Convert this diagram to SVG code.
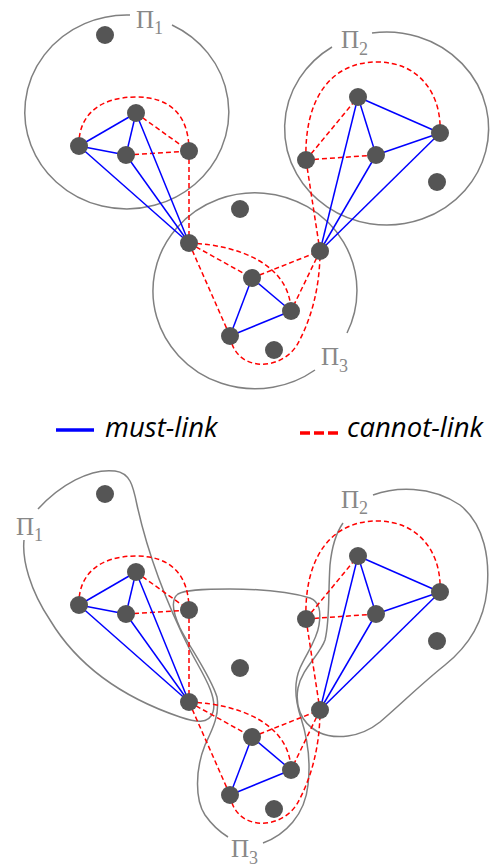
<svg xmlns="http://www.w3.org/2000/svg" width="499" height="868" viewBox="0 0 499 868">
<style>
.ml{stroke:#0000ff;stroke-width:1.5;fill:none}
.cl{stroke:#ff0000;stroke-width:1.5;stroke-dasharray:5 3;fill:none}
.ol{stroke:#808080;stroke-width:1.5;fill:none}
.nd{fill:#555555}
.lbl{font-family:"Liberation Serif","DejaVu Serif",serif;font-size:25px;fill:#888888}
.sub{font-size:18px}
.leg{font-family:"Open Sans","Noto Sans",sans-serif;font-style:italic;font-size:27.5px;fill:#000000}
</style>
<defs>
<g id="edges">
<path class="cl" d="M79,146 C78,115 100,97 136,97 C170,97 189,115 189,151"/>
<line class="cl" x1="136" y1="113" x2="189" y2="151"/>
<line class="cl" x1="126" y1="155" x2="189" y2="151"/>
<line class="cl" x1="189" y1="151" x2="189" y2="243"/>
<path class="cl" d="M306,160 C304,100 330,62 377,62 C420,62 442,95 440,133"/>
<line class="cl" x1="306" y1="160" x2="358" y2="97"/>
<line class="cl" x1="306" y1="160" x2="376" y2="155"/>
<line class="cl" x1="306" y1="160" x2="320" y2="251"/>
<line class="cl" x1="189" y1="243" x2="252" y2="278"/>
<line class="cl" x1="189" y1="243" x2="230" y2="336"/>
<line class="cl" x1="252" y1="278" x2="320" y2="251"/>
<line class="cl" x1="320" y1="251" x2="291" y2="311"/>
<path class="cl" d="M189,243 C240,245 290,265 291,311"/>
<path class="cl" d="M230,336 C235,372 280,372 297,345 C310,322 320,290 320,251"/>
<line class="ml" x1="136" y1="113" x2="79" y2="146"/>
<line class="ml" x1="136" y1="113" x2="126" y2="155"/>
<line class="ml" x1="79" y1="146" x2="126" y2="155"/>
<line class="ml" x1="189" y1="243" x2="136" y2="113"/>
<line class="ml" x1="189" y1="243" x2="79" y2="146"/>
<line class="ml" x1="189" y1="243" x2="126" y2="155"/>
<line class="ml" x1="358" y1="97" x2="376" y2="155"/>
<line class="ml" x1="358" y1="97" x2="440" y2="133"/>
<line class="ml" x1="376" y1="155" x2="440" y2="133"/>
<line class="ml" x1="320" y1="251" x2="358" y2="97"/>
<line class="ml" x1="320" y1="251" x2="376" y2="155"/>
<line class="ml" x1="320" y1="251" x2="440" y2="133"/>
<line class="ml" x1="252" y1="278" x2="291" y2="311"/>
<line class="ml" x1="291" y1="311" x2="230" y2="336"/>
<line class="ml" x1="230" y1="336" x2="252" y2="278"/>
</g>
</defs>

<g id="outlines-top">
<path class="ol" d="M172,25 A102,97 0 1 1 130,15"/>
<path class="ol" d="M372,33 A102,96.5 0 1 1 332,47"/>
<path class="ol" d="M315,370 A102,98 0 1 1 347,333"/>
<text class="lbl" x="136" y="28">Π<tspan class="sub" dy="6">1</tspan></text>
<text class="lbl" x="341" y="48">Π<tspan class="sub" dy="7">2</tspan></text>
<text class="lbl" x="321" y="365">Π<tspan class="sub" dy="7">3</tspan></text>
</g>

<g id="outlines-bottom">
<path class="ol" d="M38,509 C60,485 90,468 115,471 C130,473 133,485 137,505 C148,555 165,600 190,650 C200,670 218,695 213,712 C209,725 195,722 180,717 C130,700 80,670 50,620 C30,590 22,560 24,540"/>
<path class="ol" d="M263,843 C285,835 305,815 308,785 C311,760 308,740 301,718 C295,700 294,682 300,668 C306,654 317,640 319,625 C321,612 320,602 310,598 C290,592 260,589 230,589 C200,589 185,590 178,594 C170,600 174,615 180,628 C190,648 210,675 217,697 C220,715 212,730 205,745 C195,770 195,800 205,815 C212,825 220,832 228,837"/>
<path class="ol" d="M373,495 C395,487 430,485 460,505 C485,525 490,560 487,590 C484,620 470,645 445,665 C420,685 400,705 380,722 C360,738 335,740 318,732 C300,722 295,705 298,688 C302,668 320,655 325,640 C330,620 328,595 330,565 C332,545 336,533 343,523"/>
<text class="lbl" x="16" y="535">Π<tspan class="sub" dy="6">1</tspan></text>
<text class="lbl" x="341" y="508">Π<tspan class="sub" dy="6">2</tspan></text>
<text class="lbl" x="231" y="857">Π<tspan class="sub" dy="7">3</tspan></text>
</g>

<g id="connectors">
<use href="#edges"/>
<use href="#edges" transform="translate(0,459)"/>
</g>

<g id="nodes-top">
<g id="t-iso1"><circle class="nd" cx="105" cy="35" r="9"/></g>
<g id="t-a1"><circle class="nd" cx="136" cy="113" r="9"/></g>
<g id="t-a2"><circle class="nd" cx="79" cy="146" r="9"/></g>
<g id="t-a3"><circle class="nd" cx="126" cy="155" r="9"/></g>
<g id="t-a4"><circle class="nd" cx="189" cy="151" r="9"/></g>
<g id="t-b1"><circle class="nd" cx="358" cy="97" r="9"/></g>
<g id="t-b2"><circle class="nd" cx="306" cy="160" r="9"/></g>
<g id="t-b3"><circle class="nd" cx="376" cy="155" r="9"/></g>
<g id="t-b4"><circle class="nd" cx="440" cy="133" r="9"/></g>
<g id="t-iso2"><circle class="nd" cx="437" cy="182" r="9"/></g>
<g id="t-iso3"><circle class="nd" cx="240" cy="209" r="9"/></g>
<g id="t-c1"><circle class="nd" cx="189" cy="243" r="9"/></g>
<g id="t-c2"><circle class="nd" cx="320" cy="251" r="9"/></g>
<g id="t-c3"><circle class="nd" cx="252" cy="278" r="9"/></g>
<g id="t-c4"><circle class="nd" cx="291" cy="311" r="9"/></g>
<g id="t-c5"><circle class="nd" cx="230" cy="336" r="9"/></g>
<g id="t-iso4"><circle class="nd" cx="274" cy="350" r="9"/></g>
</g>

<g id="nodes-bottom" transform="translate(0,459)">
<g id="b-iso1"><circle class="nd" cx="105" cy="35" r="9"/></g>
<g id="b-a1"><circle class="nd" cx="136" cy="113" r="9"/></g>
<g id="b-a2"><circle class="nd" cx="79" cy="146" r="9"/></g>
<g id="b-a3"><circle class="nd" cx="126" cy="155" r="9"/></g>
<g id="b-a4"><circle class="nd" cx="189" cy="151" r="9"/></g>
<g id="b-b1"><circle class="nd" cx="358" cy="97" r="9"/></g>
<g id="b-b2"><circle class="nd" cx="306" cy="160" r="9"/></g>
<g id="b-b3"><circle class="nd" cx="376" cy="155" r="9"/></g>
<g id="b-b4"><circle class="nd" cx="440" cy="133" r="9"/></g>
<g id="b-iso2"><circle class="nd" cx="437" cy="182" r="9"/></g>
<g id="b-iso3"><circle class="nd" cx="240" cy="209" r="9"/></g>
<g id="b-c1"><circle class="nd" cx="189" cy="243" r="9"/></g>
<g id="b-c2"><circle class="nd" cx="320" cy="251" r="9"/></g>
<g id="b-c3"><circle class="nd" cx="252" cy="278" r="9"/></g>
<g id="b-c4"><circle class="nd" cx="291" cy="311" r="9"/></g>
<g id="b-c5"><circle class="nd" cx="230" cy="336" r="9"/></g>
<g id="b-iso4"><circle class="nd" cx="274" cy="350" r="9"/></g>
</g>

<g id="legend">
<line x1="56" y1="430" x2="94" y2="430" stroke="#0000ff" stroke-width="3.5"/>
<text class="leg" x="105" y="437">must-link</text>
<line x1="300" y1="433" x2="338" y2="433" stroke="#ff0000" stroke-width="3.5" stroke-dasharray="10 4"/>
<text class="leg" x="347" y="437">cannot-link</text>
</g>
</svg>
